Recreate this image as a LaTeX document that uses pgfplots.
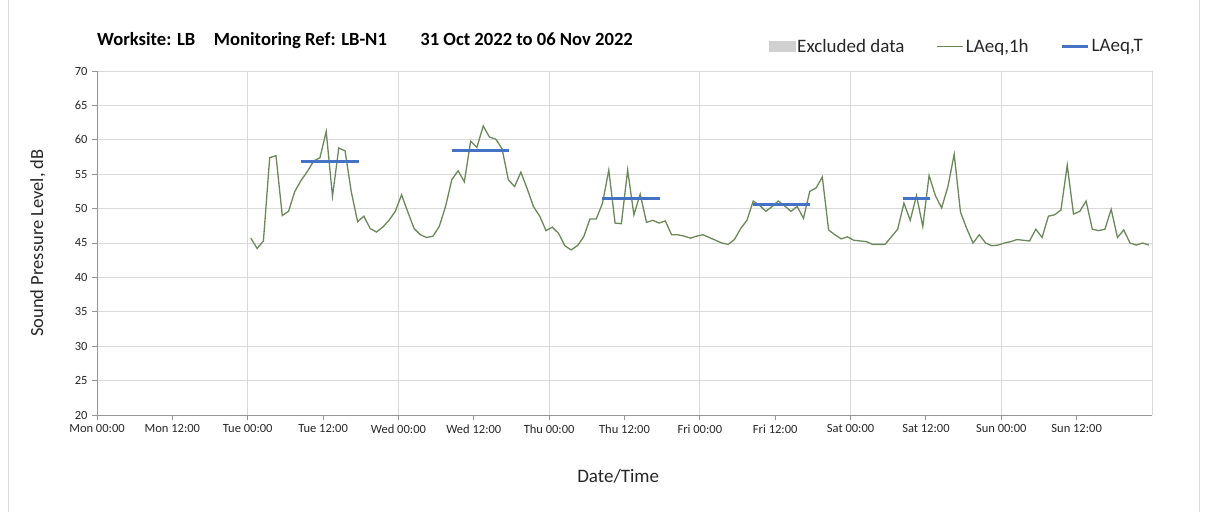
\documentclass[border=0pt]{standalone}
\usepackage{fontspec}
\setmainfont{Carlito}
\usepackage{pgfplots}
\pgfplotsset{compat=1.18}
\usepackage{pgfplotstable}
\definecolor{lgreen}{RGB}{108,136,90}
\definecolor{lblue}{RGB}{68,114,196}
\definecolor{gridgrey}{RGB}{217,217,217}
\definecolor{axgrey}{RGB}{150,150,150}
\definecolor{exgrey}{RGB}{208,208,208}
\pgfplotstableread{
h v
24.5 45.7
25.5 44.2
26.5 45.3
27.5 57.4
28.5 57.7
29.5 49.0
30.5 49.6
31.5 52.5
32.5 54.1
33.5 55.4
34.5 56.9
35.5 57.4
36.5 61.2
37.5 51.8
38.5 58.8
39.5 58.4
40.5 52.4
41.5 48.1
42.5 48.9
43.5 47.1
44.5 46.6
45.5 47.3
46.5 48.3
47.5 49.6
48.5 52.0
49.5 49.5
50.5 47.1
51.5 46.2
52.5 45.8
53.5 46.0
54.5 47.4
55.5 50.3
56.5 54.2
57.5 55.5
58.5 53.9
59.5 59.8
60.5 58.9
61.5 62.0
62.5 60.4
63.5 60.1
64.5 58.7
65.5 54.2
66.5 53.2
67.5 55.3
68.5 52.9
69.5 50.3
70.5 48.9
71.5 46.8
72.5 47.3
73.5 46.4
74.5 44.6
75.5 44.0
76.5 44.6
77.5 45.9
78.5 48.5
79.5 48.5
80.5 50.8
81.5 55.6
82.5 47.9
83.5 47.8
84.5 55.6
85.5 49.1
86.5 52.1
87.5 48.0
88.5 48.3
89.5 47.9
90.5 48.2
91.5 46.2
92.5 46.2
93.5 46.0
94.5 45.7
95.5 46.0
96.5 46.2
97.5 45.8
98.5 45.4
99.5 45.0
100.5 44.8
101.5 45.5
102.5 47.1
103.5 48.3
104.5 51.1
105.5 50.5
106.5 49.6
107.5 50.3
108.5 51.1
109.5 50.4
110.5 49.6
111.5 50.3
112.5 48.6
113.5 52.5
114.5 53.0
115.5 54.6
116.5 46.9
117.5 46.2
118.5 45.6
119.5 45.9
120.5 45.4
121.5 45.3
122.5 45.2
123.5 44.8
124.5 44.8
125.5 44.8
126.5 45.9
127.5 47.0
128.5 50.8
129.5 48.3
130.5 51.9
131.5 47.4
132.5 54.8
133.5 51.9
134.5 50.1
135.5 53.2
136.5 57.9
137.5 49.5
138.5 47.1
139.5 45.0
140.5 46.2
141.5 45.0
142.5 44.6
143.5 44.7
144.5 45.0
145.5 45.2
146.5 45.5
147.5 45.4
148.5 45.3
149.5 47.0
150.5 45.8
151.5 48.9
152.5 49.1
153.5 49.8
154.5 56.3
155.5 49.2
156.5 49.6
157.5 51.1
158.5 47.0
159.5 46.8
160.5 47.0
161.5 49.9
162.5 45.8
163.5 46.9
164.5 45.0
165.5 44.7
166.5 45.0
167.5 44.7
}\laeqh
\begin{document}
\begin{tikzpicture}[x=1pt,y=1pt]
\path[use as bounding box] (0,0) rectangle (1205,512);
\draw[gridgrey, line width=0.8pt] (8,0) -- (8,512);
\draw[gridgrey, line width=0.8pt] (1199,0) -- (1199,512);
\node[anchor=west, inner sep=0pt, font=\bfseries\fontsize{18.6}{21}\selectfont] at (97,471)
 {Worksite: LB\hspace{1.0em}Monitoring Ref: LB-N1\hspace{1.8em}31 Oct 2022 to 06 Nov 2022};
\begin{axis}[
  at={(97pt,97pt)}, anchor=south west,
  width=1055pt, height=344pt, scale only axis,
  xmin=0, xmax=168, ymin=20, ymax=70,
  xtick={0,12,...,156},
  xticklabels={Mon 00:00,Mon 12:00,Tue 00:00,Tue 12:00,Wed 00:00,Wed 12:00,Thu 00:00,Thu 12:00,Fri 00:00,Fri 12:00,Sat 00:00,Sat 12:00,Sun 00:00,Sun 12:00},
  extra x ticks={24,48,72,96,120,144,168},
  extra x tick labels={},
  extra x tick style={grid=major, major tick length=0pt},
  ytick={20,25,...,70},
  ymajorgrids,
  grid style={gridgrey, line width=1pt},
  axis x line*=bottom, axis y line*=left,
  axis line style={axgrey, line width=0.9pt},
  every tick/.style={axgrey, line width=0.9pt},
  major tick length=5pt,
  tick align=outside,
  /pgf/number format/assume math mode=true,
  ticklabel style={font=\fontsize{12.5}{14}\selectfont, text=black!85},
  yticklabel style={xshift=-1pt},
  xticklabel style={yshift=-1pt},
  xlabel={Date/Time},
  ylabel={Sound Pressure Level, dB},
  xlabel style={font=\fontsize{19}{22}\selectfont, text=black!85, at={(axis description cs:0.494,-0.177)}, anchor=center},
  ylabel style={font=\fontsize{18.5}{21}\selectfont, text=black!85, at={(axis description cs:-0.056,0.5)}, anchor=center},
  legend columns=3,
  legend style={at={(axis description cs:1,1)}, anchor=south east, xshift=-7pt, yshift=15pt,
    draw=none, fill=none, font=\fontsize{19}{22}\selectfont, text=black!85,
    /tikz/every even column/.append style={column sep=30pt},
    inner sep=0pt},
  legend image code/.code={\draw[#1] (0pt,0pt) -- (26pt,0pt);},
]
\addlegendimage{legend image code/.code={\fill[exgrey] (0pt,-5pt) rectangle (26pt,5pt);}}
\addlegendentry{Excluded data}
\addplot[lgreen, line width=1.3pt] table[x=h, y=v] {\laeqh};
\addlegendentry{LAeq,1h}
\addplot[lblue, line width=3pt] coordinates {(32.5,56.8) (41.7,56.8)};
\addlegendentry{LAeq,T}
\addplot[lblue, line width=3pt, forget plot] coordinates {(56.5,58.5) (65.6,58.5)};
\addplot[lblue, line width=3pt, forget plot] coordinates {(80.4,51.4) (89.6,51.4)};
\addplot[lblue, line width=3pt, forget plot] coordinates {(104.4,50.6) (113.6,50.6)};
\addplot[lblue, line width=3pt, forget plot] coordinates {(128.4,51.4) (132.6,51.4)};
\end{axis}
\end{tikzpicture}
\end{document}
